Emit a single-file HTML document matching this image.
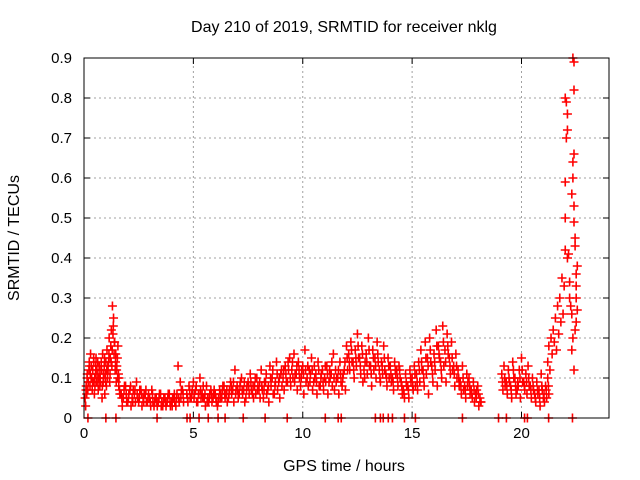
<!DOCTYPE html>
<html><head><meta charset="utf-8"><style>
body{margin:0;background:#fff}
svg{display:block;font-family:"Liberation Sans",sans-serif}
</style></head><body>
<svg id="chart" width="640" height="480">
<text x="344" y="32" text-anchor="middle" font-size="16">Day 210 of 2019, SRMTID for receiver nklg</text>
<text x="344" y="471" text-anchor="middle" font-size="16">GPS time / hours</text>
<text transform="translate(19,238) rotate(-90)" text-anchor="middle" font-size="16">SRMTID / TECUs</text>
<g id="grid"></g><g id="ticks"></g><g id="marks"></g>
<rect x="84" y="58" width="525" height="360" fill="none" stroke="#000" stroke-width="1"/>
</svg>
<script>
const xTicks=[0,5,10,15,20];
const yTicks=[0,0.1,0.2,0.3,0.4,0.5,0.6,0.7,0.8,0.9];
const yTickLabels=["0","0.1","0.2","0.3","0.4","0.5","0.6","0.7","0.8","0.9"];
const hoursA=[0.05,0.1,0.15,0.2,0.25,0.3,0.35,0.4,0.45,0.5,0.55,0.6,0.65,0.7,0.75,0.8,0.85,0.9,0.95,1.0,1.05,1.1,1.15,1.2,1.25,1.3,1.35,1.4,1.45,1.5,1.55,1.6];
const valsA1=[.05,.08,.11,.09,.13,.16,.10,.12,.14,.08,.15,.11,.07,.13,.09,.12,.16,.10,.06,.14,.17,.12,.20,.15,.22,.28,.25,.19,.16,.13,.18,.10];
const valsA2=[.03,.06,.07,.12,.08,.10,.07,.09,.06,.11,.09,.14,.10,.08,.12,.05,.09,.13,.11,.08,.10,.14,.09,.18,.13,.21,.16,.12,.09,.15,.11,.07];
const valsA3=[.07,.10,.09,.14,.11,.13,.09,.15,.10,.13,.12,.09,.12,.10,.14,.08,.11,.15,.09,.12,.13,.16,.11,.14,.17,.23,.19,.14,.12,.10,.08,.06];
const hoursB=[1.7,1.8,1.9,2.0,2.1,2.2,2.3,2.4,2.5,2.6,2.7,2.8,2.9,3.0,3.1,3.2,3.3,3.4,3.5,3.6,3.7,3.8,3.9,4.0,4.1,4.2,4.3,4.4,4.5];
const valsB1=[.06,.05,.08,.04,.07,.05,.06,.09,.04,.07,.05,.06,.04,.05,.07,.03,.05,.04,.06,.03,.05,.04,.06,.04,.05,.03,.13,.09,.07];
const valsB2=[.03,.08,.04,.06,.03,.07,.04,.05,.07,.03,.06,.04,.06,.03,.04,.05,.03,.06,.04,.05,.03,.06,.03,.05,.04,.06,.04,.07,.04];
const valsB3=[.05,.07,.06,.05,.08,.04,.07,.06,.05,.06,.04,.07,.05,.04,.06,.04,.04,.05,.03,.04,.04,.05,.04,.03,.06,.05,.05,.05,.06];
const hoursC=[4.7,4.8,4.9,5.0,5.1,5.2,5.3,5.4,5.5,5.6,5.7,5.8,5.9,6.0,6.1,6.2,6.3,6.4,6.5,6.6,6.7,6.8,6.9,7.0,7.1,7.2,7.3,7.4,7.5,7.6,7.7,7.8,7.9,8.0,8.1,8.2,8.3,8.4,8.5,8.6,8.7,8.8,8.9,9.0];
const valsC1=[.06,.08,.05,.09,.07,.04,.10,.06,.05,.08,.04,.07,.05,.06,.03,.07,.05,.08,.06,.05,.09,.07,.12,.08,.06,.10,.07,.05,.09,.11,.06,.08,.10,.07,.12,.05,.09,.07,.13,.10,.06,.14,.09,.11];
const valsC2=[.04,.05,.07,.06,.04,.06,.05,.08,.03,.05,.06,.04,.07,.04,.05,.06,.08,.05,.04,.07,.06,.04,.07,.05,.09,.06,.04,.08,.06,.07,.05,.06,.08,.05,.07,.09,.06,.04,.08,.06,.09,.07,.05,.08];
const valsC3=[.05,.07,.06,.05,.08,.06,.07,.05,.06,.04,.05,.06,.06,.05,.04,.05,.07,.06,.07,.06,.08,.09,.06,.07,.08,.07,.09,.07,.08,.09,.08,.10,.07,.09,.08,.07,.11,.08,.10,.12,.08,.11,.10,.12];
const hoursD=[9.1,9.2,9.3,9.4,9.5,9.6,9.7,9.8,9.9,10.0,10.1,10.2,10.3,10.4,10.5,10.6,10.7,10.8,10.9,11.0,11.1,11.2,11.3,11.4,11.5,11.6,11.7,11.8,11.9,12.0];
const valsD1=[.10,.13,.09,.15,.12,.16,.11,.14,.08,.13,.17,.10,.12,.15,.09,.11,.14,.08,.12,.10,.13,.09,.11,.16,.12,.10,.14,.08,.12,.18];
const valsD2=[.07,.09,.12,.08,.10,.11,.07,.10,.12,.06,.09,.08,.11,.07,.10,.06,.08,.11,.07,.09,.06,.10,.08,.07,.10,.06,.09,.11,.07,.12];
const valsD3=[.12,.11,.14,.10,.14,.09,.13,.12,.10,.11,.12,.13,.09,.12,.13,.09,.12,.10,.09,.13,.11,.12,.14,.10,.09,.12,.11,.10,.14,.15];
const hoursE=[12.1,12.2,12.3,12.4,12.5,12.6,12.7,12.8,12.9,13.0,13.1,13.2,13.3,13.4,13.5,13.6,13.7,13.8,13.9,14.0,14.1,14.2,14.3,14.4];
const valsE1=[.16,.19,.14,.17,.21,.15,.18,.12,.16,.20,.13,.17,.15,.19,.12,.14,.18,.11,.15,.13,.10,.14,.12,.13];
const valsE2=[.12,.14,.10,.13,.15,.11,.09,.14,.11,.13,.08,.12,.10,.14,.09,.11,.12,.08,.10,.09,.07,.11,.08,.10];
const valsE3=[.14,.17,.12,.15,.18,.13,.16,.10,.14,.17,.11,.15,.13,.16,.10,.13,.15,.10,.13,.11,.09,.12,.10,.12];
const hoursF=[14.5,14.6,14.7,14.8,14.9,15.0,15.1,15.2,15.3,15.4,15.5,15.6,15.7,15.8,15.9,16.0,16.1,16.2,16.3,16.4,16.5,16.6,16.7,16.8,16.9,17.0,17.1,17.2,17.3,17.4,17.5,17.6,17.7,17.8,17.9,18.0,18.1];
const valsF1=[.09,.07,.11,.08,.12,.10,.13,.11,.14,.17,.12,.19,.15,.20,.13,.16,.22,.18,.14,.23,.17,.21,.15,.19,.13,.16,.12,.09,.13,.08,.11,.10,.07,.09,.06,.08,.05];
const valsF2=[.06,.05,.08,.05,.09,.07,.08,.07,.09,.12,.08,.11,.06,.14,.09,.12,.08,.15,.10,.13,.09,.16,.11,.12,.08,.10,.08,.06,.07,.05,.09,.06,.05,.04,.07,.03,.04];
const valsF3=[.08,.06,.09,.07,.10,.08,.11,.09,.12,.14,.10,.15,.13,.17,.11,.14,.18,.16,.12,.19,.14,.18,.13,.15,.11,.13,.10,.08,.10,.07,.08,.08,.06,.07,.05,.06,.04];
const hoursG=[19.1,19.2,19.3,19.4,19.5,19.6,19.7,19.8,19.9,20.0,20.1,20.2,20.3,20.4,20.5,20.6,20.7,20.8,20.9,21.0,21.1,21.2];
const valsG1=[.11,.13,.09,.12,.08,.14,.10,.07,.12,.15,.09,.11,.13,.08,.10,.06,.09,.07,.11,.05,.08,.10];
const valsG2=[.07,.08,.06,.09,.05,.10,.06,.08,.05,.09,.07,.06,.08,.05,.07,.04,.06,.03,.07,.04,.05,.06];
const valsG3=[.09,.10,.08,.10,.07,.12,.08,.09,.10,.12,.08,.09,.10,.07,.08,.05,.07,.05,.08,.06,.07,.08];
const hoursH=[21.2,21.25,21.3,21.35,21.4,21.45,21.5,21.55,21.6,21.65,21.7,21.75,21.8,21.85,21.9,21.95,22.0,22.0,22.0,22.05,22.05,22.1,22.1,22.0,22.1,22.15,22.2,22.2,22.25,22.3,22.3,22.35,22.4,22.35,22.4,22.4,22.35,22.4,22.4,22.45,22.45,22.5,22.5,22.5,22.55,22.5,22.45,22.55,22.35,22.4,22.3];
const valsH=[.14,.18,.12,.20,.16,.22,.19,.25,.17,.28,.21,.30,.24,.35,.26,.33,.42,.50,.59,.70,.79,.76,.72,.80,.40,.41,.34,.30,.28,.26,.56,.60,.53,.64,.66,.82,.90,.89,.49,.45,.43,.36,.33,.30,.27,.24,.22,.38,.20,.12,.17];
const zeroHours=[0.18,1.0,1.46,3.34,4.71,4.85,5.26,5.68,6.13,6.45,7.28,8.28,9.29,11.03,11.62,11.76,13.32,13.55,13.68,13.91,14.1,14.65,15.15,17.3,18.95,19.31,20.14,20.27,21.24,22.33];

const X0=84,X1=609,Y0=418,Y1=58;
const xs=h=>X0+h*(X1-X0)/24;
const ys=v=>Y0-v*(Y0-Y1)/0.9;
const NS="http://www.w3.org/2000/svg";
function mk(tag,attrs,parent){const e=document.createElementNS(NS,tag);for(const k in attrs)e.setAttribute(k,attrs[k]);parent.appendChild(e);return e;}
const grid=document.getElementById('grid'),ticks=document.getElementById('ticks'),marks=document.getElementById('marks');
xTicks.forEach(t=>{
  const x=xs(t);
  if(t>0){const g=mk('line',{x1:x,x2:x,y1:Y0,y2:Y1,stroke:'#a0a0a0','stroke-dasharray':'2,3'},grid);
  
  }
  const tk=mk('path',{d:`M${x},${Y0}v-6M${x},${Y1}v6`,stroke:'#000'},ticks);
  
  
  const l=mk('text',{x:x,y:Y0+20,'text-anchor':'middle','font-size':15},ticks);l.textContent=t;
  
  
});
yTicks.forEach((t,i)=>{
  const y=ys(t);
  if(i>0&&i<yTicks.length-1){const g=mk('line',{x1:X0,x2:X1,y1:y,y2:y,stroke:'#a0a0a0','stroke-dasharray':'2,3'},grid);
  
  }
  const tk=mk('path',{d:`M${X0},${y}h6M${X1},${y}h-6`,stroke:'#000'},ticks);
  
  
  const l=mk('text',{x:X0-12,y:y+5,'text-anchor':'end','font-size':15},ticks);l.textContent=yTickLabels[i];
  
  
});
function plus(h,v){
  const x=xs(h),y=ys(v);
  const p=mk('path',{d:`M${x-4.5},${y}h9M${x},${y-4.5}v9`,stroke:'#ff0000','stroke-width':1.6},marks);
  
  
}
[[hoursA,valsA1,0],[hoursA,valsA2,0.025],[hoursA,valsA3,0.04],[hoursB,valsB1,0],[hoursB,valsB2,0.05],[hoursB,valsB3,0.03],[hoursC,valsC1,0],[hoursC,valsC2,0.05],[hoursC,valsC3,0.03],[hoursD,valsD1,0],[hoursD,valsD2,0.05],[hoursD,valsD3,0.03],[hoursE,valsE1,0],[hoursE,valsE2,0.05],[hoursE,valsE3,0.03],[hoursF,valsF1,0],[hoursF,valsF2,0.05],[hoursF,valsF3,0.03],[hoursG,valsG1,0],[hoursG,valsG2,0.05],[hoursG,valsG3,0.03],[hoursH,valsH,0]].forEach(([hs,vs,o])=>hs.forEach((h,i)=>plus(h+o,vs[i])));
zeroHours.forEach(h=>plus(h,0));
</script>
</body></html>
